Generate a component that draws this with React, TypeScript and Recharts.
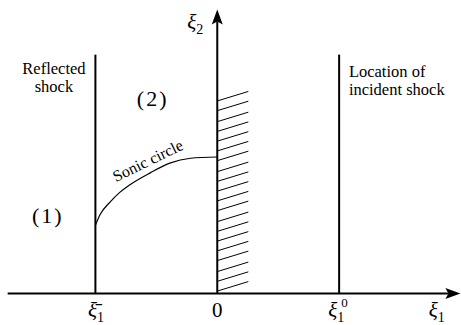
import React from 'react';
import { LineChart, Line, XAxis, YAxis, ReferenceLine, ReferenceDot } from 'recharts';

// shock positions on the xi1 axis: reflected shock, incident shock
const shockXs = [-1, 1];
const shockTop = 1.96;

// wall hatching (left end heights along xi2)
const hatchStarts = [
  0.02, 0.1, 0.18, 0.27, 0.35, 0.43, 0.51, 0.59, 0.68, 0.76,
  0.84, 0.92, 1.0, 1.09, 1.17, 1.25, 1.33, 1.41, 1.5, 1.58,
];
const hatchRise = 0.078;
const wallWidth = 0.255;

// sonic circle
const sonicXs = [-1, -0.96, -0.88, -0.8, -0.72, -0.55, -0.39, -0.22, 0];
const sonicYs = [0.56, 0.65, 0.75, 0.83, 0.89, 0.99, 1.07, 1.11, 1.12];

const sonic = sonicXs.map((x, i) => ({ x, y: sonicYs[i] }));

const SERIF = '"Liberation Serif", "DejaVu Serif", serif';

const Arrow = (p: any) => {
  const { x1, y1, x2, y2 } = p;
  const a = Math.atan2(y2 - y1, x2 - x1);
  const len = 15;
  const half = 5.5;
  const c = Math.cos(a);
  const s = Math.sin(a);
  const bx = x2 - len * c;
  const by = y2 - len * s;
  const nx = bx + 3 * c;
  const ny = by + 3 * s;
  return (
    <g>
      <line x1={x1} y1={y1} x2={nx} y2={ny} stroke="#000" strokeWidth={2} />
      <polygon
        points={`${x2},${y2} ${bx - s * half},${by + c * half} ${nx},${ny} ${bx + s * half},${by - c * half}`}
        fill="#000"
      />
    </g>
  );
};

const label = (render: (x: number, y: number) => React.ReactElement) => (p: any) =>
  render(p.cx, p.cy);

const mathText = (x: number, y: number, sub: string, sup?: string, bar?: boolean) => (
  <text x={x} y={y} textAnchor="middle" fontFamily={SERIF} fontSize={21} fill="#000">
    <tspan fontStyle="italic">{bar ? 'ξ\u0304' : 'ξ'}</tspan>
    <tspan fontSize={14} dy={5}>{sub}</tspan>
    {sup ? (
      <tspan fontSize={13} dx={-3} dy={-15}>{sup}</tspan>
    ) : null}
  </text>
);

const App = () => (
  <div style={{ position: 'absolute', left: 0, top: 0, background: '#fff' }}>
    <LineChart
      width={461}
      height={325}
      data={sonic}
      margin={{ top: 1, right: 0, bottom: 1, left: 4 }}
    >
      <XAxis dataKey="x" type="number" domain={[-1.75, 2]} hide />
      <YAxis type="number" domain={[-0.25, 2.4]} hide />

      {hatchStarts.map((h) => (
        <ReferenceLine
          key={h}
          segment={[{ x: 0, y: h }, { x: wallWidth, y: h + hatchRise }]}
          stroke="#000"
          strokeWidth={1}
        />
      ))}

      {shockXs.map((x) => (
        <ReferenceLine
          key={x}
          segment={[{ x, y: 0 }, { x, y: shockTop }]}
          stroke="#000"
          strokeWidth={2}
        />
      ))}

      <ReferenceLine segment={[{ x: -1.72, y: 0 }, { x: 1.995, y: 0 }]} shape={Arrow} />
      <ReferenceLine segment={[{ x: 0, y: 0 }, { x: 0, y: 2.33 }]} shape={Arrow} />

      <Line
        dataKey="y"
        type="monotone"
        stroke="#000"
        strokeWidth={1.2}
        dot={false}
        isAnimationActive={false}
      />

      <ReferenceDot
        x={-1.34}
        y={1.8}
        shape={label((x, y) => (
          <text x={x} y={y} textAnchor="middle" fontFamily={SERIF} fontSize={16.5} fill="#000">
            <tspan x={x}>Reflected</tspan>
            <tspan x={x} dy={18}>shock</tspan>
          </text>
        ))}
      />
      <ReferenceDot
        x={1.08}
        y={1.78}
        shape={label((x, y) => (
          <text x={x} y={y} textAnchor="start" fontFamily={SERIF} fontSize={16.5} fill="#000">
            <tspan x={x}>Location of</tspan>
            <tspan x={x} dy={18}>incident shock</tspan>
          </text>
        ))}
      />
      <ReferenceDot
        x={-0.53}
        y={1.54}
        shape={label((x, y) => (
          <text x={x} y={y} textAnchor="middle" fontFamily={SERIF} fontSize={22} letterSpacing={2} fill="#000">
            (2)
          </text>
        ))}
      />
      <ReferenceDot
        x={-1.39}
        y={0.58}
        shape={label((x, y) => (
          <text x={x} y={y} textAnchor="middle" fontFamily={SERIF} fontSize={22} letterSpacing={2} fill="#000">
            (1)
          </text>
        ))}
      />
      <ReferenceDot
        x={-0.55}
        y={1.05}
        shape={label((x, y) => (
          <text
            x={x}
            y={y}
            textAnchor="middle"
            fontFamily={SERIF}
            fontSize={16}
            fill="#000"
            transform={`rotate(-26 ${x} ${y})`}
          >
            Sonic circle
          </text>
        ))}
      />
      <ReferenceDot x={-0.18} y={2.17} shape={label((x, y) => mathText(x, y, '2'))} />
      <ReferenceDot x={-0.995} y={-0.19} shape={label((x, y) => mathText(x, y, '1', undefined, true))} />
      <ReferenceDot
        x={0}
        y={-0.19}
        shape={label((x, y) => (
          <text x={x} y={y} textAnchor="middle" fontFamily={SERIF} fontSize={21} fill="#000">
            0
          </text>
        ))}
      />
      <ReferenceDot x={0.99} y={-0.19} shape={label((x, y) => mathText(x, y, '1', '0'))} />
      <ReferenceDot x={1.8} y={-0.19} shape={label((x, y) => mathText(x, y, '1'))} />
    </LineChart>
  </div>
);

export default App;
